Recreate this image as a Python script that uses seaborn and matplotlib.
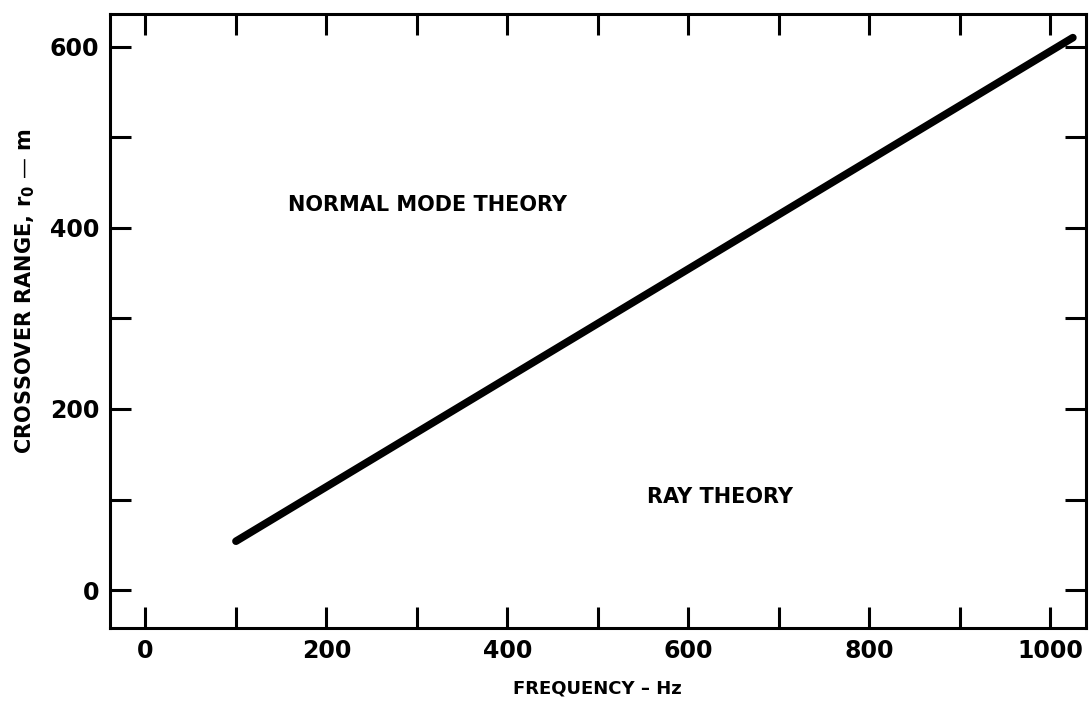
import matplotlib
matplotlib.use("Agg")
import matplotlib.pyplot as plt
import seaborn as sns
import pandas as pd
from matplotlib.ticker import MultipleLocator

frequency_hz = [100, 1025]
crossover_range_m = [54, 610]
x_ticks = [0, 200, 400, 600, 800, 1000]
y_ticks = [0, 200, 400, 600]

sns.set_style("ticks")
plt.rcParams['font.family'] = ['DejaVu Sans']
plt.rcParams['font.weight'] = 'bold'
plt.rcParams['text.color'] = 'black'
plt.rcParams['axes.labelcolor'] = 'black'
plt.rcParams['xtick.color'] = 'black'
plt.rcParams['ytick.color'] = 'black'
plt.rcParams['mathtext.fontset'] = 'dejavusans'

df = pd.DataFrame({"f": frequency_hz, "r": crossover_range_m})

fig = plt.figure(figsize=(10.91, 7.05), dpi=100)
ax = fig.add_axes([0.101, 0.109, 0.894, 0.871])
sns.lineplot(data=df, x="f", y="r", ax=ax, color="black", linewidth=5.5,
             solid_capstyle="round")

ax.set_xlim(-39, 1039)
ax.set_ylim(-42, 636)
ax.set_xticks(x_ticks)
ax.set_yticks(y_ticks)
ax.xaxis.set_minor_locator(MultipleLocator(100))
ax.yaxis.set_minor_locator(MultipleLocator(100))
ax.tick_params(which="both", direction="in", length=15, width=2.2,
               top=True, right=True, color="black")
ax.tick_params(which="major", labelsize=17, pad=8, labelcolor="black")
for lab in ax.get_xticklabels() + ax.get_yticklabels():
    lab.set_fontweight("bold")
for s in ax.spines.values():
    s.set_visible(True)
    s.set_linewidth(2.2)
    s.set_color("black")

ax.set_xlabel("FREQUENCY – Hz", fontsize=13, fontweight="bold", labelpad=12)
ax.set_ylabel(r"CROSSOVER RANGE, $\mathbf{r_0}$ — m", fontsize=15, fontweight="bold")
ax.yaxis.set_label_coords(-0.075, 0.549)

ax.text(312, 425, "NORMAL MODE THEORY", fontsize=15, fontweight="bold",
        ha="center", va="center")
ax.text(635, 103, "RAY THEORY", fontsize=15, fontweight="bold",
        ha="center", va="center")

fig.savefig("out.png", dpi=100)
